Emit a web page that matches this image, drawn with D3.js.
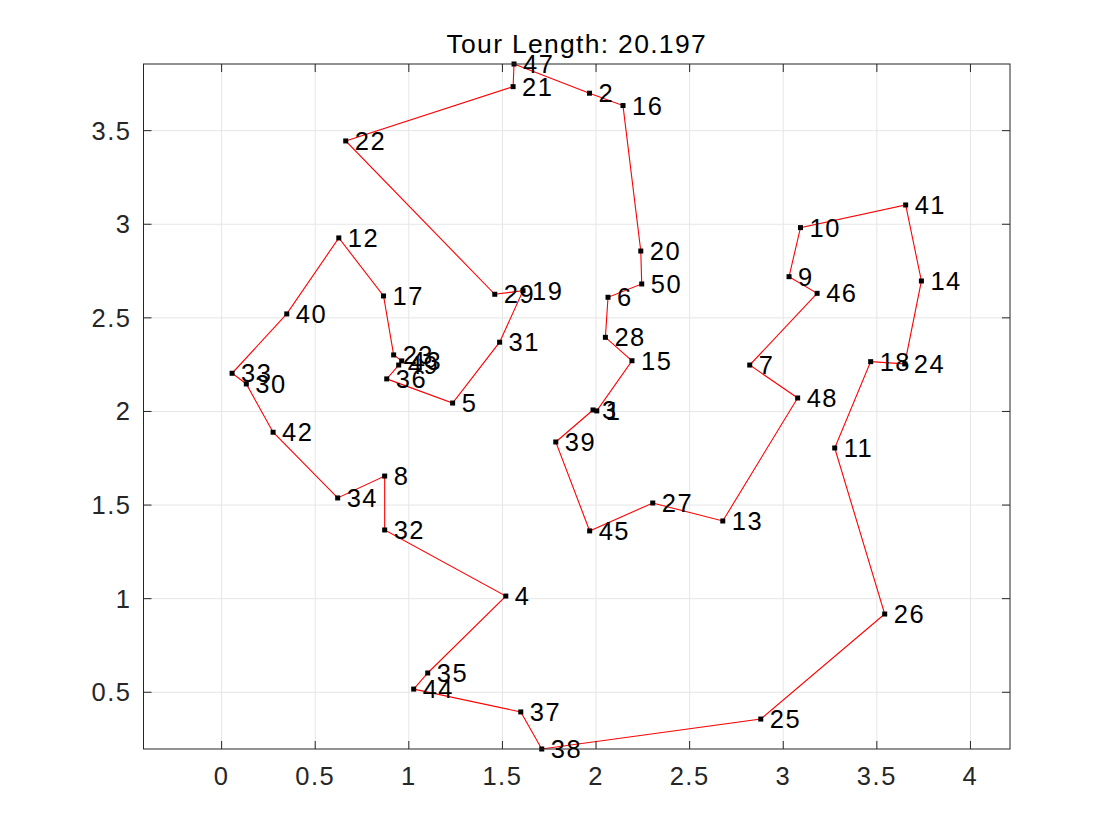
<!DOCTYPE html>
<html>
<head>
<meta charset="utf-8">
<script src="https://cdn.jsdelivr.net/npm/d3@7"></script>
<style>
  body { margin: 0; background: #fff; }
  svg { display: block; font-family: "Liberation Sans", Arial, Helvetica, sans-serif; }
</style>
</head>
<body>
<div class="plot"></div>
<script>
// tour order, city coordinates
var tourIds = [47, 2, 16, 20, 50, 6, 28, 15, 1, 3, 39, 45, 27, 13, 48, 7, 46, 9, 10, 41,
  14, 24, 18, 11, 26, 25, 38, 37, 44, 35, 4, 32, 8, 34, 42, 30, 33, 40, 12, 17,
  23, 43, 49, 36, 5, 31, 19, 29, 22, 21];
var tourX = [1.562, 1.965, 2.144, 2.239, 2.244, 2.064, 2.050, 2.192, 2.004, 1.984, 1.785, 1.966, 2.303, 2.677, 3.077, 2.821, 3.181, 3.031, 3.092, 3.654,
  3.738, 3.649, 3.467, 3.275, 3.542, 2.880, 1.710, 1.598, 1.026, 1.101, 1.518, 0.871, 0.871, 0.620, 0.275, 0.132, 0.056, 0.348, 0.626, 0.865,
  0.919, 0.962, 0.946, 0.882, 1.234, 1.485, 1.610, 1.459, 0.663, 1.557];
var tourY = [3.856, 3.700, 3.634, 2.857, 2.681, 2.610, 2.396, 2.271, 2.003, 2.008, 1.837, 1.362, 1.511, 1.415, 2.072, 2.248, 2.631, 2.720, 2.982, 3.103,
  2.697, 2.254, 2.266, 1.805, 0.918, 0.357, 0.197, 0.395, 0.517, 0.603, 1.014, 1.367, 1.655, 1.538, 1.889, 2.147, 2.204, 2.521, 2.927, 2.617,
  2.302, 2.270, 2.248, 2.174, 2.045, 2.370, 2.645, 2.626, 3.445, 3.735];
var xTicks = [0, 0.5, 1, 1.5, 2, 2.5, 3, 3.5, 4];
var yTicks = [0.5, 1, 1.5, 2, 2.5, 3, 3.5];
var titleText = "Tour Length: 20.197";

function plotTour() {
  var width = 1113, height = 837;
  var left = 143.5, right = 1010, top = 64, bottom = 749;

  var svg = d3.select(".plot").append("svg")
    .attr("width", width)
    .attr("height", height);

  var pts = tourIds.map(function(id, i) { return {id: id, x: tourX[i], y: tourY[i]}; });

  // tight y limits, x limits widened so both axes share one scale (axis equal)
  var yExt = d3.extent(tourY);
  var k = (bottom - top) / (yExt[1] - yExt[0]);
  var xExt = d3.extent(tourX);
  var xc = (xExt[0] + xExt[1]) / 2;
  var halfW = (right - left) / 2 / k;

  var x = d3.scaleLinear().domain([xc - halfW, xc + halfW]).range([left, right]);
  var y = d3.scaleLinear().domain(yExt).range([bottom, top]);

  var g = svg.append("g");

  // grid
  g.selectAll(".gx").data(xTicks).join("line")
    .attr("x1", d => x(d)).attr("x2", d => x(d))
    .attr("y1", top).attr("y2", bottom)
    .attr("stroke", "#e6e6e6").attr("stroke-width", 1);
  g.selectAll(".gy").data(yTicks).join("line")
    .attr("class", "gy")
    .attr("x1", left).attr("x2", right)
    .attr("y1", d => y(d)).attr("y2", d => y(d))
    .attr("stroke", "#e6e6e6").attr("stroke-width", 1);

  // tour
  var line = d3.line().x(d => x(d.x)).y(d => y(d.y)).curve(d3.curveLinearClosed);
  g.append("path")
    .datum(pts)
    .attr("d", line)
    .attr("fill", "none")
    .attr("stroke", "#ff0000")
    .attr("stroke-width", 1.1);

  g.selectAll(".city").data(pts).join("rect")
    .attr("class", "city")
    .attr("x", d => x(d.x) - 2.5)
    .attr("y", d => y(d.y) - 2.5)
    .attr("width", 5).attr("height", 5)
    .attr("fill", "#000");

  // axes box and ticks (inward, all four sides)
  var axisCol = "#262626";
  g.append("rect")
    .attr("x", left).attr("y", top)
    .attr("width", right - left).attr("height", bottom - top)
    .attr("fill", "none").attr("stroke", axisCol).attr("stroke-width", 1);

  var tl = 8;
  xTicks.forEach(function(t) {
    g.append("line").attr("x1", x(t)).attr("x2", x(t)).attr("y1", bottom).attr("y2", bottom - tl).attr("stroke", axisCol);
    g.append("line").attr("x1", x(t)).attr("x2", x(t)).attr("y1", top).attr("y2", top + tl).attr("stroke", axisCol);
  });
  yTicks.forEach(function(t) {
    g.append("line").attr("x1", left).attr("x2", left + tl).attr("y1", y(t)).attr("y2", y(t)).attr("stroke", axisCol);
    g.append("line").attr("x1", right).attr("x2", right - tl).attr("y1", y(t)).attr("y2", y(t)).attr("stroke", axisCol);
  });

  g.selectAll(".xl").data(xTicks).join("text")
    .attr("class", "xl")
    .attr("x", d => x(d))
    .attr("y", bottom + 36)
    .attr("text-anchor", "middle")
    .style("font-size", "25.5px")
    .style("letter-spacing", "1.5px")
    .style("fill", axisCol)
    .text(d => String(d));

  g.selectAll(".yl").data(yTicks).join("text")
    .attr("class", "yl")
    .attr("x", left - 12)
    .attr("y", d => y(d) + 9)
    .attr("text-anchor", "end")
    .style("font-size", "25.5px")
    .style("letter-spacing", "1.5px")
    .style("fill", axisCol)
    .text(d => String(d));

  // city labels
  g.selectAll(".lbl").data(pts).join("text")
    .attr("class", "lbl")
    .attr("x", d => x(d.x) + 9)
    .attr("y", d => y(d.y) + 9)
    .style("font-size", "25.5px")
    .style("letter-spacing", "1.5px")
    .style("fill", "#000")
    .text(d => d.id);

  svg.append("text")
    .attr("x", (left + right) / 2)
    .attr("y", 53)
    .attr("text-anchor", "middle")
    .style("font-size", "26.5px")
    .style("letter-spacing", "1.3px")
    .style("fill", "#000")
    .text(titleText);
}

plotTour();
</script>
</body>
</html>
